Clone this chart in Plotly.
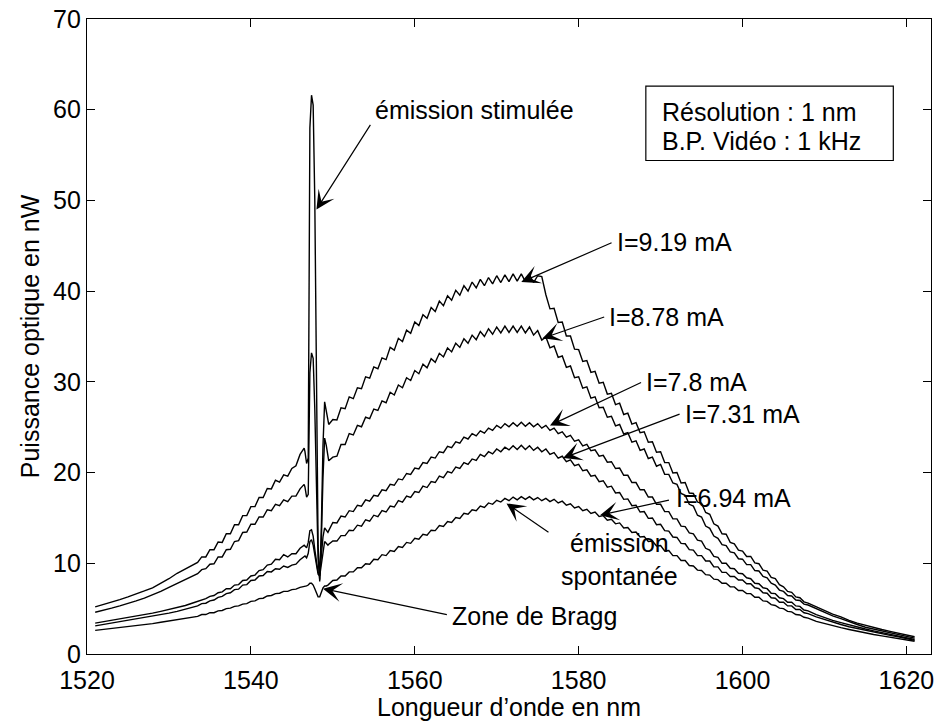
import numpy as np
import plotly.graph_objects as go

# ---------------- data ----------------
# wavelength sampling (nm): coarse tails, 0.5 nm body, 0.2 nm around the Bragg line
wl = np.concatenate([
    np.arange(1521.0, 1533.01, 1.0),
    np.arange(1533.5, 1546.51, 0.5),
    np.linspace(1546.6, 1549.4, 15),
    np.arange(1549.5, 1607.51, 0.5),
    np.arange(1608.0, 1621.01, 1.0),
])

# I = 9.19 mA
p_919 = [
    5.2, 5.45, 5.7, 6.0, 6.3, 6.6, 6.95, 7.3, 7.8, 8.3, 8.9, 9.4, 9.9,
    10.1, 10.7, 10.7, 11.5, 11.5, 12.35, 12.3, 13.25, 13.25, 14.25, 14.25, 15.25, 15.25, 16.25,
    16.25, 17.25, 17.25, 18.25, 18.2, 19.15, 18.95, 19.75, 19.6, 20.45, 20.75, 22.0, 22.7,
    22.3, 21.0, 21.6, 58.0, 61.6, 60.5, 50.0, 30.0, 12.0, 8.0, 14.0, 23.0, 27.8, 26.8, 25.4,
    25.3, 25.85, 25.8, 27.15, 27.05, 28.35, 28.15, 29.35, 29.25, 30.55,
    30.4, 31.65, 31.45, 32.65, 32.45, 33.8, 33.5, 34.8, 34.45, 35.7,
    35.35, 36.6, 36.2, 37.4, 37.0, 38.2, 37.75, 38.9, 38.4, 39.5,
    39.0, 40.1, 39.55, 40.6, 40.0, 41.0, 40.35, 41.3, 40.6, 41.5,
    40.8, 41.7, 40.95, 41.8, 41.05, 41.9, 41.1, 41.9, 41.05, 41.8,
    40.95, 41.7, 41.6, 39.6, 38.05, 38.1, 36.55, 36.6, 35.05, 35.05,
    33.6, 33.55, 32.25, 32.35, 31.05, 31.15, 29.85, 29.95, 28.65, 28.75,
    27.5, 27.65, 26.4, 26.55, 25.35, 25.5, 24.4, 24.5, 23.35, 23.4,
    22.25, 22.3, 21.1, 21.1, 19.95, 20.0, 18.85, 18.9, 17.75, 17.7,
    16.75, 16.6, 15.6, 15.4, 14.35, 14.1, 13.25, 13.2, 12.3, 12.15,
    11.45, 11.35, 10.75, 10.75, 10.05, 9.95, 9.25, 9.15, 8.45, 8.3,
    7.65, 7.4, 6.9, 6.8, 6.3, 6.2, 5.75,
    5.6, 5.2, 4.8, 4.4, 4.1, 3.7, 3.4, 3.15, 2.9, 2.7, 2.5, 2.3, 2.1, 1.9,
]

# I = 8.78 mA
p_878 = [
    4.6, 4.8, 5.05, 5.3, 5.55, 5.85, 6.15, 6.5, 6.9, 7.35, 7.8, 8.25, 8.7,
    8.85, 9.3, 9.4, 9.9, 9.95, 10.7, 10.7, 11.5, 11.55, 12.4, 12.5, 13.4, 13.45, 14.3,
    14.3, 15.1, 15.1, 15.9, 15.8, 16.5, 16.35, 17.0, 16.8, 17.4, 17.4, 18.2, 18.7,
    18.4, 17.3, 17.6, 31.0, 33.2, 32.6, 27.0, 18.0, 10.5, 8.2, 12.5, 19.5, 23.8, 23.0, 21.5,
    21.3, 21.7, 21.8, 23.1, 23.1, 24.3, 24.15, 25.2, 25.05, 26.1,
    25.95, 27.0, 26.85, 27.9, 27.7, 28.85, 28.55, 29.65, 29.35, 30.45,
    30.15, 31.25, 30.9, 31.95, 31.55, 32.55, 32.15, 33.15, 32.75, 33.75,
    33.3, 34.25, 33.8, 34.75, 34.25, 35.15, 34.65, 35.55, 35.0, 35.85,
    35.25, 36.05, 35.4, 36.15, 35.45, 36.15, 35.45, 36.15, 35.4, 36.05,
    35.15, 35.65, 34.6, 34.95, 33.75, 33.95, 32.7, 32.85, 31.6, 31.75,
    30.45, 30.55, 29.3, 29.45, 28.2, 28.35, 27.15, 27.2, 26.1, 26.2,
    25.15, 25.3, 24.25, 24.4, 23.35, 23.5, 22.45, 22.6, 21.55, 21.7,
    20.7, 20.9, 19.8, 19.8, 18.85, 18.7, 17.7, 17.5, 16.5, 16.3,
    15.3, 15.1, 14.1, 13.85, 13.0, 12.75, 12.05, 11.95, 11.25, 11.15,
    10.5, 10.45, 9.85, 9.85, 9.2, 9.15, 8.55, 8.4, 7.8, 7.6,
    7.05, 6.9, 6.45, 6.4, 5.95, 5.9, 5.5,
    5.4, 5.0, 4.6, 4.2, 3.9, 3.55, 3.25, 2.95, 2.75, 2.55, 2.35, 2.15, 1.95, 1.75,
]

# I = 7.8 mA
p_780 = [
    3.4, 3.55, 3.7, 3.85, 4.0, 4.15, 4.3, 4.5, 4.7, 4.9, 5.1, 5.35, 5.65,
    5.8, 6.0, 6.1, 6.35, 6.45, 6.75, 6.85, 7.2, 7.2, 7.6, 7.65, 8.1, 8.15, 8.6,
    8.7, 9.2, 9.3, 9.8, 9.9, 10.45, 10.4, 10.95, 10.7, 11.05, 11.05, 11.65, 12.0,
    11.9, 11.7, 12.3, 13.6, 13.7, 13.0, 11.5, 10.0, 9.0, 8.8, 10.8, 12.9, 13.9, 13.6, 13.4,
    13.6, 14.5, 14.45, 15.2, 15.1, 15.8, 15.7, 16.4, 16.3, 17.0,
    16.85, 17.5, 17.4, 18.1, 18.0, 18.7, 18.6, 19.3, 19.2, 19.9,
    19.8, 20.5, 20.4, 21.1, 21.0, 21.7, 21.6, 22.3, 22.2, 22.9,
    22.75, 23.4, 23.25, 23.9, 23.7, 24.3, 24.05, 24.6, 24.35, 24.9,
    24.65, 25.2, 24.9, 25.4, 25.05, 25.5, 25.1, 25.55, 25.1, 25.5,
    25.05, 25.4, 24.9, 25.2, 24.65, 24.9, 24.3, 24.5, 23.9, 24.1,
    23.45, 23.6, 22.95, 23.1, 22.4, 22.5, 21.8, 21.9, 21.15, 21.2,
    20.45, 20.5, 19.7, 19.7, 18.9, 18.9, 18.1, 18.1, 17.3, 17.3,
    16.5, 16.5, 15.7, 15.7, 14.9, 14.9, 14.1, 14.05, 13.35, 13.25,
    12.55, 12.45, 11.65, 11.45, 10.75, 10.65, 10.0, 10.0, 9.45, 9.4,
    8.9, 8.85, 8.4, 8.3, 7.8, 7.75, 7.3, 7.2, 6.7, 6.65,
    6.2, 6.1, 5.7, 5.7, 5.3, 5.25, 4.85,
    4.75, 4.35, 4.0, 3.7, 3.45, 3.2, 2.95, 2.75, 2.55, 2.35, 2.15, 2.0, 1.8, 1.6,
]

# I = 7.31 mA
p_731 = [
    3.1, 3.25, 3.4, 3.55, 3.7, 3.85, 4.0, 4.15, 4.3, 4.5, 4.7, 4.95, 5.2,
    5.3, 5.55, 5.6, 5.85, 5.95, 6.25, 6.35, 6.65, 6.75, 7.1, 7.15, 7.6, 7.65, 8.1,
    8.15, 8.6, 8.65, 9.1, 9.05, 9.4, 9.35, 9.7, 9.55, 9.8, 9.9, 10.4, 10.8,
    10.8, 10.6, 11.1, 12.4, 12.6, 12.0, 10.8, 9.6, 8.8, 8.6, 10.0, 11.6, 12.4, 12.2, 12.0,
    12.1, 12.45, 12.45, 13.05, 13.05, 13.65, 13.6, 14.2, 14.1, 14.8,
    14.65, 15.3, 15.15, 15.8, 15.65, 16.3, 16.2, 16.9, 16.75, 17.4,
    17.25, 17.9, 17.8, 18.5, 18.35, 19.0, 18.9, 19.6, 19.45, 20.1,
    19.95, 20.6, 20.45, 21.1, 20.9, 21.5, 21.35, 22.0, 21.75, 22.3,
    22.05, 22.6, 22.3, 22.8, 22.5, 22.95, 22.55, 23.0, 22.55, 22.95,
    22.45, 22.8, 22.3, 22.6, 22.0, 22.2, 21.6, 21.8, 21.2, 21.4,
    20.75, 20.9, 20.2, 20.3, 19.6, 19.7, 19.0, 19.1, 18.4, 18.5,
    17.75, 17.8, 17.05, 17.1, 16.35, 16.4, 15.65, 15.7, 14.95, 15.0,
    14.25, 14.3, 13.6, 13.55, 12.9, 12.85, 12.2, 12.15, 11.5, 11.45,
    10.85, 10.85, 10.25, 10.25, 9.6, 9.6, 9.0, 9.0, 8.55, 8.55,
    8.15, 8.15, 7.75, 7.75, 7.3, 7.2, 6.75, 6.7, 6.2, 6.15,
    5.7, 5.7, 5.3, 5.3, 4.9, 4.9, 4.55,
    4.45, 4.1, 3.8, 3.5, 3.25, 3.0, 2.8, 2.6, 2.4, 2.25, 2.05, 1.9, 1.7, 1.5,
]

# I = 6.94 mA
p_694 = [
    2.6, 2.7, 2.8, 2.9, 3.0, 3.1, 3.2, 3.35, 3.5, 3.65, 3.8, 3.95, 4.1,
    4.15, 4.35, 4.35, 4.55, 4.55, 4.75, 4.8, 5.0, 5.05, 5.25, 5.3, 5.5, 5.55, 5.8,
    5.85, 6.1, 6.15, 6.4, 6.45, 6.65, 6.7, 6.9, 6.9, 7.1, 7.15, 7.35, 7.4,
    7.45, 7.5, 7.6, 7.8, 7.8, 7.6, 7.2, 6.7, 6.3, 6.3, 6.8, 7.3, 7.5, 7.5, 7.6,
    7.7, 8.1, 8.15, 8.6, 8.6, 9.05, 9.05, 9.5, 9.5, 9.95,
    9.9, 10.45, 10.4, 10.95, 10.85, 11.4, 11.3, 11.85, 11.75, 12.3,
    12.2, 12.75, 12.65, 13.2, 13.1, 13.65, 13.6, 14.15, 14.05, 14.6,
    14.5, 15.05, 14.95, 15.5, 15.4, 15.9, 15.8, 16.3, 16.15, 16.65,
    16.5, 16.95, 16.75, 17.15, 16.9, 17.3, 17.0, 17.35, 17.05, 17.35,
    17.0, 17.25, 16.9, 17.15, 16.8, 17.05, 16.65, 16.85, 16.4, 16.55,
    16.1, 16.25, 15.8, 15.95, 15.5, 15.65, 15.15, 15.25, 14.75, 14.85,
    14.35, 14.45, 13.9, 13.95, 13.4, 13.45, 12.9, 12.95, 12.4, 12.45,
    11.9, 11.95, 11.35, 11.4, 10.85, 10.85, 10.3, 10.3, 9.75, 9.7,
    9.25, 9.2, 8.75, 8.7, 8.25, 8.2, 7.8, 7.8, 7.4, 7.4,
    7.0, 7.0, 6.65, 6.65, 6.25, 6.25, 5.85, 5.8, 5.45, 5.35,
    5.05, 5.0, 4.7, 4.65, 4.35, 4.3, 4.05,
    3.95, 3.6, 3.35, 3.1, 2.9, 2.7, 2.5, 2.3, 2.15, 2.0, 1.85, 1.7, 1.55, 1.4,
]

series = [p_919, p_878, p_780, p_731, p_694]
for s in series:
    assert len(s) == len(wl), (len(s), len(wl))

x_ticks = [1520, 1540, 1560, 1580, 1600, 1620]
y_ticks = [0, 10, 20, 30, 40, 50, 60, 70]

# ---------------- figure ----------------
FONT = "Liberation Sans, Arial, Helvetica, sans-serif"
FS = 25

fig = go.Figure()
for s in series:
    fig.add_trace(go.Scatter(x=wl, y=s, mode="lines",
                             line=dict(color="black", width=1.4),
                             hoverinfo="skip", showlegend=False))

# arrows: (tip_x, tip_y, tail_x, tail_y)
arrows = [
    (1548.0, 49.0, 1554.7, 58.5),
    (1573.0, 41.0, 1584.2, 45.4),
    (1575.6, 34.8, 1583.3, 37.2),
    (1576.5, 25.2, 1587.8, 30.0),
    (1578.1, 21.6, 1592.5, 26.5),
    (1582.6, 15.3, 1591.2, 17.0),
    (1571.2, 16.6, 1576.5, 13.3),
    (1548.8, 7.2, 1564.1, 4.3),
]
annotations = []
for tx, ty, ax_, ay_ in arrows:
    annotations.append(dict(x=tx, y=ty, ax=ax_, ay=ay_, xref="x", yref="y",
                            axref="x", ayref="y", text="", showarrow=True,
                            arrowhead=3, arrowsize=2.6, arrowwidth=1.2,
                            arrowcolor="black"))

labels = [
    (1554.85, 60.0, "émission stimulée", "left"),
    (1584.4, 45.4, "I=9.19 mA", "left"),
    (1583.4, 37.2, "I=8.78 mA", "left"),
    (1588.0, 30.0, "I=7.8 mA", "left"),
    (1592.7, 26.5, "I=7.31 mA", "left"),
    (1591.6, 17.2, "I=6.94 mA", "left"),
    (1564.3, 4.2, "Zone de Bragg", "left"),
    (1589.9, 59.8, "Résolution : 1 nm", "left"),
    (1589.9, 56.5, "B.P. Vidéo : 1 kHz", "left"),
]
for lx, ly, txt, anc in labels:
    annotations.append(dict(x=lx, y=ly, xref="x", yref="y", text=txt,
                            showarrow=False, xanchor=anc, yanchor="middle",
                            font=dict(family=FONT, size=FS, color="black")))
annotations.append(dict(x=1585.0, y=10.4, xref="x", yref="y",
                        text="émission<br>spontanée", showarrow=False,
                        xanchor="center", yanchor="middle",
                        font=dict(family=FONT, size=FS, color="black")))
# x-axis title, placed below the tick labels
annotations.append(dict(x=0.5, y=-0.083, xref="paper", yref="paper",
                        text="Longueur d’onde en nm", showarrow=False,
                        xanchor="center", yanchor="middle",
                        font=dict(family=FONT, size=FS, color="black")))

fig.add_shape(type="rect", xref="x", yref="y", x0=1588.2, x1=1618.4,
              y0=54.4, y1=62.6, line=dict(color="black", width=1.2),
              fillcolor="white", layer="below")

axis_common = dict(ticks="inside", ticklen=8, tickwidth=1, tickcolor="black",
                   showline=True, linecolor="black", linewidth=1.2,
                   mirror="ticks", showgrid=False, zeroline=False,
                   tickfont=dict(family=FONT, size=FS, color="black"))

fig.update_layout(
    width=938, height=725,
    margin=dict(l=87, r=7, t=19, b=71),
    paper_bgcolor="white", plot_bgcolor="white",
    font=dict(family=FONT, size=FS, color="black"),
    xaxis=dict(range=[1520, 1623], tickvals=x_ticks, ticklabelstandoff=4,
               automargin=False, **axis_common),
    yaxis=dict(range=[0, 70], tickvals=y_ticks, automargin=False,
               title=dict(text="Puissance optique en nW", standoff=6,
                          font=dict(family=FONT, size=FS)),
               **axis_common),
    annotations=annotations,
    showlegend=False,
)

fig.write_html(
    "out.html",
    config={"displayModeBar": False},
    post_script=["document.body.style.margin='0';document.body.style.overflow='hidden';"],
)
